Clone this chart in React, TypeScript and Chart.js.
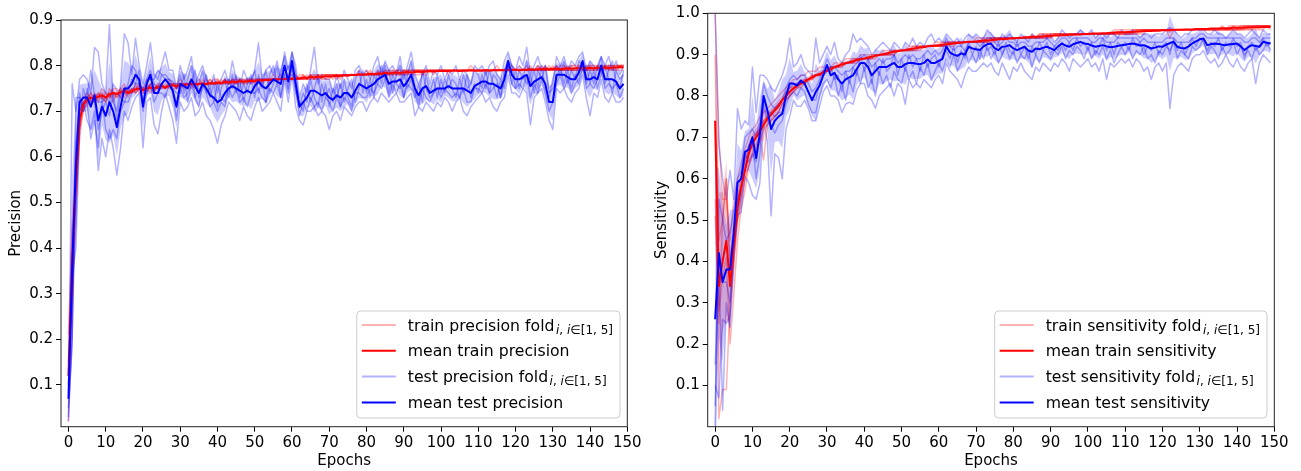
import React, { useEffect, useRef } from "react";
import { Chart, registerables } from "chart.js";

Chart.register(...registerables);

// ---------------- shared axis data ----------------
const xTicks = [0, 10, 20, 30, 40, 50, 60, 70, 80, 90, 100, 110, 120, 130, 140, 150];
const precYTicks = [0.1, 0.2, 0.3, 0.4, 0.5, 0.6, 0.7, 0.8, 0.9];
const sensYTicks = [0.1, 0.2, 0.3, 0.4, 0.5, 0.6, 0.7, 0.8, 0.9, 1.0];
const xTitle = "Epochs";
const precYTitle = "Precision";
const sensYTitle = "Sensitivity";
const precLegend = ["train precision fold", "mean train precision", "test precision fold", "mean test precision"];
const sensLegend = ["train sensitivity fold", "mean train sensitivity", "test sensitivity fold", "mean test sensitivity"];

// ---------------- PRECISION (left) ----------------
const precMeanTrain = [
  .12, .36, .55, .68, .715, .725, .73, .728, .732, .735,
  .73, .737, .74, .738, .742, .745, .74, .744, .748, .75,
  .746, .75, .752, .75, .753, .755, .752, .756, .757, .755,
  .758, .757, .759, .76, .758, .76, .761, .759, .762, .761,
  .763, .762, .764, .763, .765, .764, .766, .765, .766, .767,
  .766, .768, .767, .769, .768, .77, .769, .771, .77, .772,
  .771, .773, .772, .774, .773, .775, .774, .776, .775, .777,
  .776, .777, .778, .777, .779, .778, .78, .779, .781, .78,
  .781, .782, .781, .783, .782, .784, .783, .784, .785, .784,
  .785, .786, .785, .786, .787, .786, .787, .788, .787, .788,
  .788, .789, .788, .789, .789, .788, .789, .789, .79, .789,
  .789, .789, .79, .789, .79, .79, .79, .79, .791, .791,
  .791, .79, .791, .791, .792, .791, .792, .792, .793, .792,
  .793, .793, .792, .793, .794, .793, .794, .794, .795, .794,
  .795, .794, .795, .795, .796, .795, .796, .796, .797, .796,
];
const precMeanTest = [
  .07, .36, .58, .72, .73, .73, .71, .735, .68, .71,
  .69, .72, .70, .665, .71, .75, .75, .76, .78, .77,
  .71, .76, .78, .74, .74, .76, .77, .76, .745, .71,
  .76, .755, .75, .77, .755, .74, .76, .75, .735, .73,
  .72, .725, .74, .75, .755, .75, .745, .74, .745, .74,
  .755, .765, .755, .75, .76, .77, .765, .76, .80, .765,
  .81, .76, .71, .72, .73, .745, .745, .74, .735, .74,
  .73, .725, .735, .73, .74, .74, .73, .745, .76, .755,
  .75, .755, .76, .77, .775, .78, .76, .765, .765, .77,
  .755, .765, .78, .75, .735, .75, .755, .74, .745, .75,
  .75, .75, .755, .75, .75, .75, .75, .745, .74, .755,
  .76, .765, .765, .76, .76, .755, .75, .77, .81, .78,
  .77, .77, .775, .78, .755, .765, .77, .775, .76, .72,
  .72, .78, .78, .78, .775, .77, .77, .785, .81, .77,
  .77, .775, .77, .80, .77, .77, .77, .765, .75, .76,
];
const precTrainFold1 = [
  .10, .30, .52, .66, .70, .72, .74, .72, .74, .73,
  .72, .75, .74, .73, .75, .76, .74, .75, .74, .76,
  .75, .76, .75, .74, .76, .76, .75, .77, .76, .75,
  .77, .76, .76, .77, .76, .77, .76, .77, .76, .77,
  .77, .76, .77, .76, .77, .77, .77, .76, .77, .77,
  .77, .77, .77, .77, .77, .78, .77, .77, .77, .78,
  .78, .77, .78, .78, .77, .78, .78, .78, .78, .78,
  .78, .78, .78, .78, .78, .78, .78, .78, .79, .78,
  .78, .79, .78, .79, .78, .79, .79, .79, .79, .79,
  .79, .79, .79, .79, .79, .79, .79, .79, .79, .79,
  .79, .79, .79, .79, .79, .79, .79, .79, .80, .79,
  .79, .79, .79, .79, .79, .80, .79, .79, .80, .79,
  .79, .80, .79, .79, .80, .79, .80, .79, .80, .79,
  .80, .79, .80, .80, .79, .80, .80, .80, .79, .80,
  .80, .80, .80, .79, .80, .80, .80, .80, .80, .80,
];
const precTrainFold2 = [
  .15, .45, .62, .72, .73, .74, .72, .74, .73, .75,
  .74, .73, .75, .75, .74, .73, .75, .74, .76, .74,
  .74, .74, .76, .76, .75, .75, .76, .75, .76, .76,
  .75, .76, .76, .75, .76, .76, .77, .76, .77, .76,
  .76, .77, .76, .77, .76, .77, .76, .77, .77, .76,
  .77, .77, .76, .77, .77, .77, .77, .78, .77, .77,
  .77, .78, .77, .77, .78, .77, .78, .77, .78, .78,
  .78, .78, .78, .78, .78, .78, .78, .78, .78, .78,
  .79, .78, .78, .78, .79, .78, .79, .78, .79, .79,
  .78, .79, .79, .79, .79, .79, .79, .79, .79, .79,
  .79, .79, .79, .79, .79, .79, .79, .79, .79, .79,
  .79, .79, .79, .79, .79, .79, .79, .79, .79, .79,
  .79, .79, .79, .79, .79, .79, .79, .80, .79, .79,
  .79, .80, .79, .79, .80, .79, .79, .80, .80, .79,
  .80, .79, .80, .80, .79, .80, .80, .79, .80, .80,
];
const precTrainFold3 = [
  .12, .36, .50, .64, .71, .71, .73, .73, .72, .74,
  .73, .74, .72, .74, .73, .75, .73, .75, .74, .75,
  .75, .75, .74, .75, .75, .76, .75, .76, .75, .75,
  .76, .75, .76, .76, .75, .76, .76, .76, .76, .76,
  .77, .76, .77, .76, .77, .76, .77, .77, .76, .77,
  .77, .77, .77, .77, .77, .77, .77, .77, .77, .77,
  .77, .77, .77, .78, .77, .78, .77, .78, .77, .78,
  .78, .77, .78, .78, .78, .78, .78, .78, .78, .78,
  .78, .78, .78, .78, .78, .79, .78, .79, .78, .78,
  .79, .78, .79, .79, .79, .78, .79, .79, .79, .79,
  .79, .79, .79, .79, .79, .79, .79, .79, .79, .79,
  .79, .79, .79, .79, .79, .79, .79, .79, .79, .79,
  .79, .79, .79, .79, .79, .79, .79, .79, .79, .79,
  .79, .79, .79, .79, .79, .79, .79, .79, .80, .79,
  .79, .79, .80, .79, .80, .79, .80, .80, .80, .80,
];
const precTrainFold4 = [
  .02, .25, .58, .70, .72, .73, .74, .73, .74, .73,
  .74, .73, .74, .73, .75, .74, .74, .75, .75, .75,
  .74, .76, .75, .75, .76, .75, .75, .76, .76, .76,
  .76, .76, .76, .76, .76, .76, .76, .76, .76, .76,
  .76, .76, .76, .76, .76, .76, .77, .76, .77, .77,
  .76, .77, .77, .77, .77, .77, .77, .77, .77, .77,
  .77, .77, .77, .77, .77, .77, .77, .78, .77, .77,
  .77, .78, .78, .77, .78, .78, .78, .78, .78, .78,
  .78, .78, .78, .78, .78, .78, .78, .78, .78, .78,
  .78, .78, .78, .78, .78, .78, .78, .79, .78, .79,
  .79, .79, .78, .79, .79, .79, .79, .79, .79, .79,
  .79, .79, .79, .79, .79, .79, .79, .79, .79, .79,
  .79, .79, .79, .79, .79, .79, .79, .79, .79, .79,
  .79, .79, .79, .79, .79, .79, .79, .79, .79, .79,
  .79, .79, .79, .79, .80, .79, .79, .79, .79, .79,
];
const precTrainFold5 = [
  .21, .44, .53, .68, .72, .73, .73, .72, .73, .73,
  .72, .74, .74, .74, .74, .75, .74, .74, .75, .76,
  .75, .75, .76, .75, .75, .76, .75, .76, .76, .75,
  .76, .76, .76, .76, .76, .76, .76, .76, .77, .76,
  .76, .76, .77, .76, .77, .76, .77, .76, .76, .77,
  .76, .77, .77, .77, .76, .77, .77, .77, .77, .77,
  .77, .77, .77, .77, .77, .78, .77, .77, .78, .77,
  .78, .78, .77, .78, .78, .78, .78, .78, .78, .78,
  .78, .78, .78, .78, .78, .78, .78, .78, .79, .78,
  .79, .79, .78, .79, .79, .79, .79, .79, .79, .79,
  .79, .79, .79, .79, .79, .79, .79, .79, .79, .79,
  .79, .79, .79, .79, .79, .79, .79, .79, .79, .80,
  .79, .79, .79, .80, .79, .79, .80, .79, .79, .80,
  .79, .80, .79, .80, .79, .80, .80, .79, .80, .79,
  .80, .80, .79, .80, .80, .80, .79, .80, .80, .80,
];
const precTestFold1 = [
  .02, .76, .70, .77, .78, .77, .74, .84, .83, .76,
  .74, .89, .72, .70, .76, .87, .85, .78, .86, .80,
  .76, .80, .85, .78, .77, .80, .83, .79, .79, .75,
  .80, .77, .79, .82, .76, .78, .80, .77, .75, .78,
  .74, .77, .79, .76, .81, .77, .75, .79, .77, .76,
  .79, .85, .77, .79, .80, .78, .81, .77, .83, .79,
  .83, .80, .73, .76, .74, .79, .84, .76, .78, .77,
  .77, .74, .78, .75, .79, .77, .75, .79, .80, .78,
  .79, .77, .80, .82, .78, .81, .79, .80, .78, .82,
  .77, .80, .83, .78, .76, .78, .80, .76, .79, .78,
  .80, .77, .79, .78, .80, .77, .79, .78, .76, .80,
  .79, .80, .78, .80, .81, .78, .77, .81, .83, .80,
  .79, .82, .80, .84, .78, .80, .82, .79, .80, .75,
  .76, .82, .80, .82, .79, .81, .80, .82, .83, .79,
  .81, .80, .79, .82, .80, .82, .79, .81, .78, .80,
];
const precTestFold2 = [
  .15, .30, .45, .70, .72, .68, .66, .70, .57, .64,
  .60, .66, .62, .56, .62, .70, .68, .71, .73, .74,
  .62, .72, .73, .67, .65, .70, .74, .71, .68, .63,
  .72, .70, .71, .73, .69, .70, .72, .69, .68, .66,
  .63, .67, .69, .72, .71, .70, .68, .71, .69, .68,
  .71, .73, .70, .71, .72, .74, .72, .70, .77, .72,
  .78, .71, .68, .67, .70, .70, .71, .69, .70, .69,
  .66, .69, .70, .68, .71, .70, .69, .71, .72, .72,
  .70, .72, .73, .72, .74, .73, .72, .73, .74, .72,
  .72, .73, .74, .69, .71, .70, .72, .71, .70, .72,
  .71, .73, .72, .70, .72, .73, .70, .69, .71, .72,
  .73, .74, .72, .73, .71, .70, .72, .73, .78, .74,
  .74, .73, .75, .74, .67, .73, .74, .75, .72, .68,
  .66, .75, .74, .75, .73, .72, .74, .75, .78, .73,
  .69, .74, .73, .77, .73, .72, .74, .72, .72, .73,
];
const precTestFold3 = [
  .05, .20, .62, .74, .70, .75, .72, .72, .66, .70,
  .72, .69, .74, .68, .74, .74, .76, .80, .79, .76,
  .72, .77, .79, .76, .75, .78, .77, .77, .75, .74,
  .74, .78, .72, .76, .79, .73, .75, .78, .73, .76,
  .71, .75, .77, .73, .78, .74, .77, .72, .76, .78,
  .73, .78, .75, .79, .74, .76, .80, .73, .78, .80,
  .79, .74, .72, .70, .76, .72, .75, .78, .72, .76,
  .71, .75, .73, .76, .72, .75, .77, .72, .75, .79,
  .74, .77, .73, .79, .76, .80, .74, .78, .76, .75,
  .79, .75, .77, .73, .76, .72, .78, .74, .77, .73,
  .77, .74, .78, .75, .73, .77, .74, .78, .73, .76,
  .74, .78, .75, .79, .76, .73, .77, .75, .80, .76,
  .79, .75, .78, .76, .78, .74, .79, .77, .80, .74,
  .75, .77, .80, .76, .79, .75, .78, .76, .79, .80,
  .76, .79, .75, .78, .80, .77, .74, .79, .77, .78,
];
const precTestFold4 = [
  .10, .34, .40, .66, .75, .72, .64, .68, .62, .73,
  .66, .64, .66, .64, .70, .72, .72, .74, .76, .79,
  .70, .74, .76, .72, .74, .74, .73, .76, .74, .68,
  .75, .73, .74, .76, .73, .71, .76, .74, .71, .72,
  .70, .72, .71, .75, .73, .75, .72, .73, .71, .74,
  .74, .75, .73, .72, .75, .74, .76, .73, .78, .74,
  .80, .75, .69, .72, .70, .73, .71, .72, .70, .73,
  .72, .70, .73, .71, .73, .72, .70, .74, .74, .73,
  .73, .75, .74, .76, .75, .77, .73, .76, .74, .76,
  .73, .76, .75, .74, .71, .75, .73, .72, .74, .75,
  .73, .75, .74, .73, .74, .73, .75, .72, .72, .75,
  .75, .74, .76, .74, .75, .76, .73, .77, .80, .76,
  .75, .76, .75, .78, .73, .76, .74, .77, .74, .70,
  .72, .76, .78, .75, .77, .74, .76, .77, .80, .75,
  .76, .75, .77, .79, .75, .76, .75, .76, .73, .75,
];
const precTestFold5 = [
  .03, .20, .73, .73, .70, .73, .79, .735, .72, .72,
  .73, .72, .76, .745, .73, .72, .74, .77, .76, .76,
  .75, .77, .77, .77, .79, .78, .78, .77, .765, .75,
  .78, .74, .77, .80, .73, .76, .79, .74, .75, .72,
  .76, .73, .72, .77, .75, .78, .73, .76, .74, .77,
  .79, .74, .77, .72, .78, .80, .76, .79, .82, .75,
  .83, .78, .71, .74, .72, .77, .73, .71, .76, .73,
  .75, .72, .76, .71, .77, .73, .71, .77, .79, .74,
  .77, .73, .78, .76, .80, .77, .79, .74, .78, .80,
  .73, .78, .81, .75, .72, .79, .75, .73, .74, .78,
  .74, .77, .75, .77, .76, .73, .78, .75, .76, .79,
  .78, .75, .79, .74, .78, .77, .73, .79, .81, .80,
  .75, .79, .77, .81, .76, .79, .75, .80, .75, .73,
  .77, .80, .78, .81, .76, .79, .77, .81, .80, .76,
  .79, .76, .80, .82, .76, .79, .81, .76, .75, .79,
];

// ---------------- SENSITIVITY (right) ----------------
const sensMeanTrain = [
  .74, .34, .40, .45, .34, .44, .53, .58, .62, .66,
  .685, .70, .715, .73, .745, .755, .765, .775, .79, .80,
  .81, .818, .825, .83, .835, .84, .845, .85, .853, .857,
  .862, .865, .87, .873, .876, .879, .882, .884, .887, .889,
  .891, .893, .895, .897, .899, .901, .903, .905, .907, .908,
  .91, .911, .913, .914, .916, .917, .918, .92, .921, .922,
  .923, .924, .925, .926, .927, .928, .929, .93, .931, .931,
  .932, .933, .934, .934, .935, .936, .937, .937, .938, .939,
  .939, .94, .941, .942, .942, .943, .943, .944, .944, .945,
  .945, .946, .946, .947, .947, .948, .948, .949, .949, .95,
  .95, .951, .951, .951, .952, .952, .953, .953, .954, .954,
  .954, .955, .955, .956, .956, .957, .957, .957, .958, .958,
  .959, .959, .959, .96, .96, .96, .961, .961, .961, .962,
  .962, .962, .962, .963, .963, .963, .964, .964, .964, .965,
  .965, .965, .965, .966, .966, .966, .966, .967, .967, .967,
];
const sensMeanTest = [
  .26, .42, .35, .38, .38, .47, .59, .60, .665, .67,
  .70, .65, .71, .80, .766, .72, .74, .75, .757, .80,
  .83, .83, .825, .837, .83, .81, .79, .81, .825, .85,
  .875, .85, .856, .84, .83, .84, .845, .85, .865, .88,
  .88, .87, .85, .86, .87, .87, .87, .875, .88, .87,
  .87, .877, .88, .88, .878, .877, .88, .888, .88, .88,
  .885, .89, .92, .905, .90, .897, .903, .90, .919, .915,
  .913, .911, .92, .925, .927, .915, .911, .919, .92, .923,
  .915, .911, .915, .919, .91, .907, .915, .913, .917, .919,
  .915, .911, .92, .927, .922, .919, .925, .928, .931, .927,
  .926, .922, .919, .921, .923, .92, .918, .919, .921, .923,
  .924, .926, .927, .925, .922, .923, .919, .915, .917, .92,
  .919, .924, .928, .931, .919, .916, .915, .92, .927, .932,
  .937, .939, .923, .925, .927, .926, .924, .923, .925, .926,
  .927, .92, .911, .918, .923, .921, .919, .931, .929, .927,
];
const sensTrainFold1 = [
  1.0, .70, .55, .55, .45, .55, .60, .64, .67, .70,
  .72, .73, .75, .76, .77, .78, .79, .80, .81, .82,
  .83, .84, .84, .85, .85, .86, .86, .86, .87, .87,
  .87, .87, .88, .88, .88, .89, .89, .89, .89, .90,
  .90, .90, .90, .90, .90, .91, .91, .91, .91, .91,
  .91, .91, .92, .92, .92, .92, .92, .92, .92, .93,
  .93, .93, .93, .93, .93, .93, .93, .93, .93, .93,
  .94, .94, .94, .94, .94, .94, .94, .94, .94, .94,
  .94, .94, .94, .94, .94, .95, .94, .95, .95, .95,
  .95, .95, .95, .95, .95, .95, .95, .95, .95, .95,
  .95, .95, .95, .95, .95, .95, .95, .96, .96, .96,
  .96, .96, .96, .96, .96, .96, .96, .96, .96, .96,
  .96, .96, .96, .96, .96, .96, .96, .96, .96, .96,
  .96, .96, .96, .96, .96, .96, .97, .96, .97, .97,
  .97, .97, .97, .97, .97, .97, .97, .97, .97, .97,
];
const sensTrainFold2 = [
  .90, .45, .50, .60, .35, .45, .55, .60, .64, .68,
  .70, .71, .72, .74, .75, .76, .77, .78, .79, .81,
  .82, .82, .83, .83, .84, .84, .85, .85, .85, .86,
  .86, .87, .87, .87, .88, .88, .88, .88, .89, .89,
  .89, .89, .89, .90, .90, .90, .90, .90, .91, .91,
  .91, .91, .91, .91, .91, .92, .92, .92, .92, .92,
  .92, .92, .92, .93, .93, .93, .93, .93, .93, .93,
  .93, .93, .93, .93, .94, .94, .94, .94, .94, .94,
  .94, .94, .94, .94, .94, .94, .94, .94, .94, .94,
  .94, .95, .95, .95, .95, .95, .95, .95, .95, .95,
  .95, .95, .95, .95, .95, .95, .95, .95, .95, .95,
  .95, .95, .95, .96, .96, .96, .96, .96, .96, .96,
  .96, .96, .94, .96, .96, .96, .96, .96, .96, .96,
  .96, .96, .96, .96, .96, .96, .96, .96, .96, .96,
  .96, .96, .96, .97, .97, .97, .97, .97, .97, .97,
];
const sensTrainFold3 = [
  .74, .02, .09, .09, .30, .40, .50, .55, .60, .63,
  .66, .68, .70, .645, .73, .74, .75, .76, .78, .79,
  .80, .81, .82, .82, .83, .84, .84, .85, .85, .85,
  .86, .86, .87, .87, .87, .88, .88, .88, .88, .89,
  .89, .89, .89, .89, .90, .90, .90, .90, .90, .91,
  .91, .91, .91, .91, .91, .91, .92, .92, .92, .92,
  .92, .92, .92, .92, .92, .93, .93, .93, .93, .93,
  .93, .93, .93, .93, .93, .93, .94, .94, .94, .94,
  .94, .94, .94, .94, .94, .94, .94, .94, .94, .95,
  .94, .95, .95, .95, .95, .95, .95, .95, .95, .95,
  .95, .95, .95, .95, .95, .95, .95, .95, .95, .95,
  .95, .95, .95, .95, .95, .95, .96, .96, .96, .96,
  .96, .96, .96, .96, .96, .96, .96, .96, .96, .96,
  .96, .96, .96, .96, .96, .96, .96, .96, .96, .96,
  .96, .96, .96, .96, .96, .96, .96, .96, .97, .96,
];
const sensTrainFold4 = [
  .55, .25, .50, .60, .40, .48, .55, .58, .62, .66,
  .69, .71, .72, .74, .75, .76, .77, .78, .79, .80,
  .81, .82, .83, .83, .84, .84, .85, .85, .85, .86,
  .86, .87, .87, .87, .88, .88, .88, .89, .89, .89,
  .89, .89, .90, .90, .90, .90, .90, .91, .91, .91,
  .91, .91, .91, .92, .92, .92, .92, .92, .92, .92,
  .92, .93, .93, .93, .93, .93, .93, .93, .93, .93,
  .93, .93, .94, .93, .94, .94, .94, .94, .94, .94,
  .94, .94, .94, .94, .94, .94, .94, .95, .95, .95,
  .95, .95, .95, .95, .95, .95, .95, .95, .95, .95,
  .95, .95, .95, .95, .95, .95, .95, .95, .95, .95,
  .95, .95, .96, .96, .96, .96, .96, .96, .96, .96,
  .96, .96, .96, .96, .96, .96, .96, .96, .96, .96,
  .96, .96, .96, .96, .96, .96, .96, .96, .96, .97,
  .96, .97, .97, .96, .97, .97, .97, .97, .97, .97,
];
const sensTrainFold5 = [
  .51, .28, .36, .41, .20, .32, .45, .53, .57, .63,
  .655, .67, .69, .72, .73, .74, .75, .76, .78, .79,
  .80, .81, .82, .83, .83, .84, .84, .85, .85, .86,
  .86, .86, .87, .87, .87, .88, .88, .88, .89, .89,
  .89, .89, .89, .90, .90, .90, .90, .90, .90, .91,
  .91, .91, .91, .91, .92, .92, .92, .92, .92, .92,
  .92, .92, .93, .93, .93, .93, .93, .93, .93, .93,
  .93, .93, .93, .94, .94, .94, .94, .94, .94, .94,
  .94, .94, .94, .94, .94, .94, .94, .94, .94, .94,
  .95, .95, .95, .95, .95, .95, .95, .95, .95, .95,
  .95, .95, .95, .95, .95, .95, .95, .95, .95, .95,
  .95, .95, .95, .95, .96, .96, .96, .96, .96, .96,
  .96, .96, .96, .96, .96, .96, .96, .96, .96, .96,
  .96, .96, .96, .96, .96, .96, .96, .96, .96, .96,
  .96, .96, .97, .97, .96, .97, .97, .97, .97, .97,
];
const sensTestFold1 = [
  1.0, .68, .60, .55, .62, .55, .77, .72, .74, .73,
  .87, .76, .85, .85, .84, .82, .81, .83, .85, .88,
  .94, .87, .88, .90, .87, .86, .85, .94, .88, .90,
  .92, .90, .93, .89, .88, .90, .91, .95, .93, .94,
  .93, .92, .90, .91, .92, .93, .92, .91, .93, .92,
  .91, .93, .92, .94, .92, .93, .92, .94, .95, .93,
  .94, .93, .95, .94, .93, .94, .92, .94, .95, .94,
  .95, .94, .94, .96, .95, .94, .93, .95, .94, .95,
  .94, .93, .95, .94, .93, .95, .94, .94, .95, .94,
  .95, .93, .94, .96, .95, .94, .95, .95, .96, .95,
  .95, .96, .94, .95, .95, .94, .95, .95, .94, .96,
  .95, .95, .96, .95, .94, .95, .95, .94, .95, .95,
  .95, .96, .965, .96, .95, .94, .95, .95, .96, .96,
  .96, .96, .95, .95, .96, .95, .95, .94, .95, .96,
  .95, .95, .94, .95, .96, .95, .94, .96, .95, .95,
];
const sensTestFold2 = [
  0.0, .55, .50, .45, .47, .52, .60, .62, .70, .71,
  .72, .70, .74, .83, .80, .78, .77, .78, .79, .82,
  .84, .85, .84, .85, .85, .83, .81, .82, .84, .86,
  .89, .87, .87, .86, .85, .86, .86, .87, .88, .89,
  .90, .89, .87, .88, .89, .88, .89, .89, .90, .88,
  .89, .90, .89, .90, .89, .89, .90, .91, .90, .91,
  .90, .91, .94, .92, .91, .92, .92, .91, .93, .93,
  .93, .92, .93, .94, .94, .93, .92, .93, .94, .93,
  .93, .92, .93, .93, .92, .92, .93, .93, .93, .94,
  .93, .92, .93, .94, .94, .93, .94, .94, .94, .94,
  .94, .93, .93, .94, .94, .93, .93, .93, .94, .94,
  .94, .94, .94, .94, .93, .94, .93, .93, .93, .93,
  .93, .94, .94, .94, .93, .93, .93, .93, .94, .94,
  .95, .95, .94, .94, .94, .94, .94, .94, .94, .94,
  .94, .94, .93, .93, .94, .94, .93, .94, .94, .94,
];
const sensTestFold3 = [
  .05, .40, .04, .30, .24, .40, .52, .56, .66, .64,
  .66, .64, .70, .80, .76, .76, .75, .76, .76, .80,
  .82, .83, .83, .84, .83, .81, .79, .79, .83, .85,
  .86, .87, .84, .85, .81, .86, .83, .87, .85, .90,
  .86, .89, .83, .88, .85, .89, .86, .87, .90, .85,
  .89, .86, .90, .87, .89, .86, .90, .87, .89, .90,
  .87, .90, .91, .89, .92, .88, .91, .89, .93, .90,
  .92, .89, .93, .91, .92, .90, .93, .90, .93, .91,
  .90, .93, .90, .92, .89, .92, .90, .93, .91, .93,
  .90, .92, .91, .93, .91, .93, .91, .94, .92, .93,
  .91, .93, .90, .92, .94, .91, .93, .90, .93, .92,
  .93, .91, .94, .92, .93, .90, .92, .91, .93, .90,
  .92, .93, .90, .94, .91, .93, .90, .92, .94, .92,
  .94, .93, .91, .93, .92, .94, .91, .93, .92, .94,
  .92, .93, .89, .92, .93, .91, .92, .94, .92, .93,
];
const sensTestFold4 = [
  .15, .40, .35, .35, .30, .45, .55, .58, .62, .68,
  .69, .60, .66, .78, .74, .73, .71, .73, .74, .78,
  .80, .81, .80, .82, .81, .78, .76, .76, .80, .83,
  .84, .82, .85, .80, .83, .79, .84, .81, .86, .83,
  .87, .82, .84, .80, .86, .83, .85, .82, .86, .84,
  .83, .87, .84, .86, .83, .87, .85, .88, .84, .86,
  .88, .86, .89, .87, .90, .86, .88, .91, .88, .90,
  .88, .91, .89, .92, .89, .91, .88, .90, .92, .89,
  .91, .88, .90, .89, .91, .87, .90, .88, .91, .90,
  .89, .91, .90, .92, .89, .91, .90, .92, .91, .89,
  .92, .89, .91, .90, .92, .89, .91, .88, .90, .92,
  .90, .92, .89, .91, .90, .92, .89, .90, .88, .91,
  .90, .92, .91, .93, .89, .91, .90, .89, .92, .91,
  .92, .94, .90, .92, .91, .89, .92, .90, .91, .93,
  .90, .92, .90, .91, .89, .92, .90, .91, .93, .91,
];
const sensTestFold5 = [
  .10, .07, .26, .25, .27, .43, .51, .52, .605, .59,
  .56, .55, .59, .74, .69, .51, .66, .65, .60, .72,
  .75, .79, .775, .775, .79, .77, .74, .74, .775, .81,
  .825, .80, .80, .79, .76, .78, .785, .78, .815, .83,
  .83, .80, .79, .77, .80, .81, .82, .83, .80, .83,
  .82, .78, .84, .82, .83, .82, .84, .83, .82, .84,
  .85, .83, .88, .86, .85, .84, .82, .85, .87, .86,
  .86, .87, .88, .87, .88, .86, .85, .88, .86, .84,
  .87, .86, .88, .86, .85, .84, .87, .86, .88, .87,
  .86, .88, .87, .89, .88, .86, .89, .88, .87, .88,
  .89, .87, .88, .86, .89, .84, .88, .87, .88, .89,
  .88, .89, .87, .89, .88, .86, .87, .84, .87, .88,
  .86, .88, .77, .85, .87, .88, .87, .86, .89, .90,
  .90, .91, .89, .88, .89, .87, .88, .90, .88, .87,
  .89, .87, .86, .88, .89, .83, .88, .90, .89, .88,
];

const precTrainFolds = [precTrainFold1, precTrainFold2, precTrainFold3, precTrainFold4, precTrainFold5];
const precTestFolds = [precTestFold1, precTestFold2, precTestFold3, precTestFold4, precTestFold5];
const sensTrainFolds = [sensTrainFold1, sensTrainFold2, sensTrainFold3, sensTrainFold4, sensTrainFold5];
const sensTestFolds = [sensTestFold1, sensTestFold2, sensTestFold3, sensTestFold4, sensTestFold5];

// ---------------- styling ----------------
const FONT = "'DejaVu Sans', 'Liberation Sans', sans-serif";
const TICK_SIZE = 15;
const LEG_SIZE = 15.7;
const SUB_SIZE = 12;
const RED = "#ff0000";
const BLUE = "#0000ff";
const RED_FOLD = "rgba(255,0,0,0.3)";
const BLUE_FOLD = "rgba(0,0,255,0.3)";
const RED_BAND = "rgba(255,0,0,0.2)";
const BLUE_BAND = "rgba(0,0,255,0.2)";

const pts = (arr: number[]) => arr.map((y, x) => ({ x, y }));

function band(folds: number[][], mean: number[]) {
  const hi: number[] = [];
  const lo: number[] = [];
  mean.forEach((m, i) => {
    const vals = folds.map((f) => f[i]);
    const mu = vals.reduce((a, b) => a + b, 0) / vals.length;
    const sd = Math.sqrt(vals.reduce((a, b) => a + (b - mu) * (b - mu), 0) / vals.length);
    hi.push(m + sd);
    lo.push(m - sd);
  });
  return { hi, lo };
}

function buildDatasets(trainFolds: number[][], meanTrain: number[], testFolds: number[][], meanTest: number[]) {
  const line = { pointRadius: 0, tension: 0, fill: false, borderJoinStyle: "round" as const };
  const tb = band(testFolds, meanTest);
  const rb = band(trainFolds, meanTrain);
  const ds: any[] = [];
  ds.push({ ...line, label: "mean test", data: pts(meanTest), borderColor: BLUE, borderWidth: 2, order: 0 });
  ds.push({ ...line, label: "mean train", data: pts(meanTrain), borderColor: RED, borderWidth: 2, order: 1 });
  ds.push({ ...line, label: "test band hi", data: pts(tb.hi), borderWidth: 0, borderColor: "rgba(0,0,0,0)", backgroundColor: BLUE_BAND, fill: "+1", order: 2 });
  ds.push({ ...line, label: "test band lo", data: pts(tb.lo), borderWidth: 0, borderColor: "rgba(0,0,0,0)", order: 2 });
  ds.push({ ...line, label: "train band hi", data: pts(rb.hi), borderWidth: 0, borderColor: "rgba(0,0,0,0)", backgroundColor: RED_BAND, fill: "+1", order: 3 });
  ds.push({ ...line, label: "train band lo", data: pts(rb.lo), borderWidth: 0, borderColor: "rgba(0,0,0,0)", order: 3 });
  testFolds.forEach((f, k) => ds.push({ ...line, label: `test fold ${k + 1}`, data: pts(f), borderColor: BLUE_FOLD, borderWidth: 1.5, order: 4 }));
  trainFolds.forEach((f, k) => ds.push({ ...line, label: `train fold ${k + 1}`, data: pts(f), borderColor: RED_FOLD, borderWidth: 1.5, order: 5 }));
  return ds;
}

const boxPlugin = {
  id: "mplBox",
  afterDatasetsDraw(chart: any) {
    const { ctx, chartArea } = chart;
    ctx.save();
    ctx.strokeStyle = "#222";
    ctx.lineWidth = 1;
    ctx.strokeRect(chartArea.left, chartArea.top, chartArea.right - chartArea.left, chartArea.bottom - chartArea.top);
    ctx.restore();
  },
};

function legendPlugin(labels: string[]) {
  const styles = [
    { color: RED_FOLD, width: 2, sub: true },
    { color: RED, width: 2, sub: false },
    { color: BLUE_FOLD, width: 2, sub: true },
    { color: BLUE, width: 2, sub: false },
  ];
  const subParts: [string, boolean][] = [["i", true], [", ", false], ["i", true], ["\u2208[1, 5]", false]];
  return {
    id: "mplLegend",
    afterDraw(chart: any) {
      const { ctx, chartArea } = chart;
      ctx.save();
      let subW = 0;
      for (const [t, it] of subParts) {
        ctx.font = `${it ? "italic " : ""}${SUB_SIZE}px ${FONT}`;
        subW += ctx.measureText(t).width;
      }
      ctx.font = `${LEG_SIZE}px ${FONT}`;
      let maxW = 0;
      labels.forEach((lab, k) => {
        const w = ctx.measureText(lab).width + (styles[k].sub ? subW + 1.5 : 0);
        maxW = Math.max(maxW, w);
      });
      const boxW = 51 + maxW + 7;
      const boxH = 107;
      const x0 = chartArea.right - 7.3 - boxW;
      const y0 = chartArea.bottom - 8.7 - boxH;
      ctx.beginPath();
      if (ctx.roundRect) ctx.roundRect(x0, y0, boxW, boxH, 4);
      else ctx.rect(x0, y0, boxW, boxH);
      ctx.fillStyle = "rgba(255,255,255,0.8)";
      ctx.fill();
      ctx.strokeStyle = "#cccccc";
      ctx.lineWidth = 1;
      ctx.stroke();
      labels.forEach((lab, k) => {
        const st = styles[k];
        const cy = y0 + 14 + k * 25.8;
        ctx.beginPath();
        ctx.moveTo(x0 + 5, cy);
        ctx.lineTo(x0 + 39, cy);
        ctx.strokeStyle = st.color;
        ctx.lineWidth = st.width;
        ctx.stroke();
        ctx.fillStyle = "#000";
        ctx.textBaseline = "alphabetic";
        ctx.textAlign = "left";
        ctx.font = `${LEG_SIZE}px ${FONT}`;
        const base = cy + 5.5;
        ctx.fillText(lab, x0 + 51, base);
        if (st.sub) {
          let sx = x0 + 51 + ctx.measureText(lab).width + 1.5;
          for (const [t, it] of subParts) {
            ctx.font = `${it ? "italic " : ""}${SUB_SIZE}px ${FONT}`;
            ctx.fillText(t, sx, base + 3);
            sx += ctx.measureText(t).width;
          }
        }
      });
      ctx.restore();
    },
  };
}

type Panel = {
  trainFolds: number[][];
  meanTrain: number[];
  testFolds: number[][];
  meanTest: number[];
  yMin: number;
  yMax: number;
  yTicks: number[];
  yTitle: string;
  yAxisW: number;
  yTitlePad: number;
  padRight: number;
  padTop: number;
  legend: string[];
};

function makeConfig(p: Panel): any {
  return {
    type: "line",
    data: { datasets: buildDatasets(p.trainFolds, p.meanTrain, p.testFolds, p.meanTest) },
    options: {
      animation: false,
      responsive: false,
      maintainAspectRatio: false,
      devicePixelRatio: 1,
      events: [],
      layout: { padding: { left: 0, right: p.padRight, top: p.padTop, bottom: 0 } },
      plugins: { legend: { display: false }, tooltip: { enabled: false } },
      scales: {
        x: {
          type: "linear",
          min: -2,
          max: 150,
          afterBuildTicks: (s: any) => { s.ticks = xTicks.map((v) => ({ value: v })); },
          afterFit: (s: any) => { s.height = 44.3; },
          ticks: { autoSkip: false, maxRotation: 0, color: "#000", padding: 2, font: { family: FONT, size: TICK_SIZE } },
          grid: { display: true, drawOnChartArea: false, drawTicks: true, tickLength: 5, color: "#000", lineWidth: 1 },
          border: { display: false },
          title: { display: true, text: xTitle, color: "#000", font: { family: FONT, size: TICK_SIZE }, padding: { top: 0, bottom: 1 } },
        },
        y: {
          type: "linear",
          min: p.yMin,
          max: p.yMax,
          afterBuildTicks: (s: any) => { s.ticks = p.yTicks.map((v) => ({ value: v })); },
          afterFit: (s: any) => { s.width = p.yAxisW; },
          ticks: { color: "#000", padding: 3, font: { family: FONT, size: TICK_SIZE }, callback: (v: any) => Number(v).toFixed(1) },
          grid: { display: true, drawOnChartArea: false, drawTicks: true, tickLength: 5, color: "#000", lineWidth: 1 },
          border: { display: false },
          title: { display: true, text: p.yTitle, color: "#000", font: { family: FONT, size: TICK_SIZE }, padding: { top: p.yTitlePad, bottom: 0 } },
        },
      },
    },
    plugins: [boxPlugin, legendPlugin(p.legend)],
  };
}

export default function App() {
  const leftRef = useRef<HTMLCanvasElement>(null);
  const rightRef = useRef<HTMLCanvasElement>(null);
  useEffect(() => {
    const c1 = new Chart(leftRef.current as HTMLCanvasElement, makeConfig({
      trainFolds: precTrainFolds, meanTrain: precMeanTrain, testFolds: precTestFolds, meanTest: precMeanTest,
      yMin: 0.0086, yMax: 0.9, yTicks: precYTicks, yTitle: precYTitle, yAxisW: 61, yTitlePad: 7,
      padRight: 22.7, padTop: 20, legend: precLegend,
    }));
    const c2 = new Chart(rightRef.current as HTMLCanvasElement, makeConfig({
      trainFolds: sensTrainFolds, meanTrain: sensMeanTrain, testFolds: sensTestFolds, meanTest: sensMeanTest,
      yMin: 0, yMax: 1.0, yTicks: sensYTicks, yTitle: sensYTitle, yAxisW: 57.7, yTitlePad: 2.7,
      padRight: 26.7, padTop: 13.3, legend: sensLegend,
    }));
    return () => { c1.destroy(); c2.destroy(); };
  }, []);
  return (
    <div style={{ position: "fixed", left: 0, top: 0, width: 1301, height: 471, background: "#fff", overflow: "hidden" }}>
      <canvas ref={leftRef} width={650} height={471} style={{ position: "absolute", left: 0, top: 0, width: 650, height: 471 }} />
      <canvas ref={rightRef} width={651} height={471} style={{ position: "absolute", left: 650, top: 0, width: 651, height: 471 }} />
    </div>
  );
}
